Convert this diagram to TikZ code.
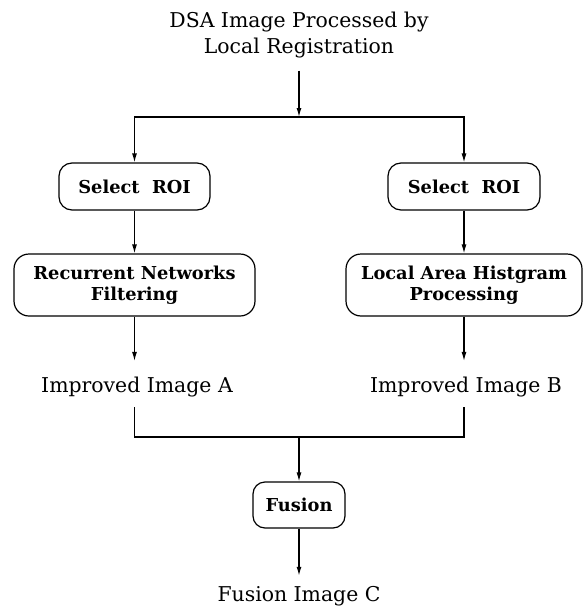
\documentclass[tikz,border=0pt]{standalone}
\usepackage{fontspec}
\setmainfont{DejaVu Serif}
\usetikzlibrary{arrows.meta}
\begin{document}
\begin{tikzpicture}[x=1pt,y=-1pt,
  line width=1.2pt,
  arr/.style={-{Latex[length=9pt,width=5pt]}},
  box/.style={draw, rounded corners=13pt, align=center, inner sep=0pt,
    font=\fontsize{17.8}{21}\selectfont\bfseries},
  lbl/.style={inner sep=0pt, align=center, font=\fontsize{20.4}{26}\selectfont}]
\useasboundingbox (0,0) rectangle (585,608);
\node[lbl] (title) at (299,35) {DSA Image Processed by\\Local Registration};
\coordinate (split) at (299,117);
\node[box, minimum width=151pt, minimum height=47pt] (selL) at (134.5,186.5) {Select\ \ ROI};
\node[box, minimum width=152pt, minimum height=47pt] (selR) at (464,186.5) {Select\ \ ROI};
\node[box, minimum width=241pt, minimum height=62pt, rounded corners=15pt] (recL) at (134.5,285) {Recurrent Networks\\Filtering};
\node[box, minimum width=236pt, minimum height=62pt, rounded corners=15pt] (recR) at (464,285) {Local Area Histgram\\Processing};
\node[lbl, anchor=base] (imgA) at (137,392) {Improved Image A};
\node[lbl, anchor=base] (imgB) at (466,392) {Improved Image B};
\coordinate (merge) at (299,437);
\node[box, minimum width=92pt, minimum height=46pt, rounded corners=12pt] (fus) at (299,505) {Fusion};
\node[lbl, anchor=base] (fusC) at (299,601.5) {Fusion Image C};

\draw[arr, shorten <=12pt] (title.south) -- (split);
\draw[arr] (split) -| (selL.north);
\draw[arr] (split) -| (selR.north);
\draw[arr] (selL) -- (recL);
\draw[arr] (selR) -- (recR);
\draw[arr, shorten >=15pt] (recL.south) -- (recL.south |- imgA.north);
\draw[arr, shorten >=15pt] (recR.south) -- (recR.south |- imgB.north);
\draw[shorten <=10pt] (recL.south |- imgA.south) |- (merge);
\draw[shorten <=10pt] (recR.south |- imgB.south) |- (merge);
\draw[arr] (merge) -- (fus);
\draw[arr, shorten >=10pt] (fus.south) -- (fus.south |- fusC.north);
\end{tikzpicture}
\end{document}
